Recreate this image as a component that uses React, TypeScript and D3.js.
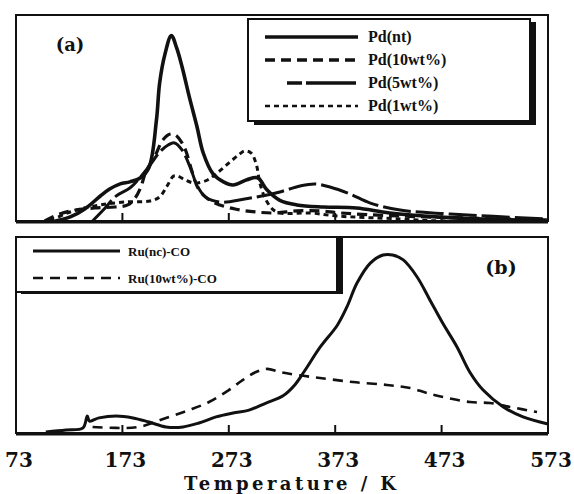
import * as d3 from 'd3';

type Pt = [number, number];

// temperature (K) vs. desorption signal (arb. units, 0-100 per panel)
const tempTicks = [73, 173, 273, 373, 473, 573];

const pdNt: Pt[] = [[110, 0], [124, 2], [138, 6], [152, 12], [161, 15.5], [171, 18], [180, 19], [190, 21], [198, 26], [205, 49], [208, 67], [213, 81], [219, 90], [224, 84], [229, 75], [236, 60], [243, 46], [249, 33], [258, 23], [268, 19], [277, 17.5], [290, 20], [300, 21], [309, 15], [321, 10], [337, 7.8], [362, 6.8], [393, 6.3], [424, 3.9], [471, 1.9], [518, 0.8], [572, 0.5]];
const pd10: Pt[] = [[100, 0], [114, 3.4], [129, 5.3], [147, 6.3], [166, 6.8], [178, 7.8], [185, 11.2], [190, 16], [195, 23.8], [204, 32], [211, 39.3], [218, 42.2], [223, 41.7], [229, 37.9], [233, 33.5], [238, 24.8], [244, 16], [251, 11.7], [260, 8.7], [279, 5.8], [298, 4.4], [316, 3.9], [337, 4.9], [359, 4.9], [378, 3.9], [434, 2.4], [572, 0.5]];
const pd5: Pt[] = [[145, 0], [155, 5.3], [167, 12.1], [180, 16], [190, 21.4], [199, 27.2], [208, 33.5], [216, 36.9], [222, 37.9], [229, 34.5], [237, 25.7], [243, 17.5], [251, 11.7], [265, 9.2], [288, 10.7], [304, 12.1], [321, 14.1], [340, 17], [354, 18], [368, 16.5], [387, 13.1], [406, 8.7], [434, 5.3], [481, 3.4], [572, 1]];
const pd1: Pt[] = [[105, 0], [119, 3.4], [133, 5.8], [152, 7.8], [175, 9.2], [199, 9.7], [208, 11.7], [215, 17], [221, 21.8], [225, 21.8], [232, 19.9], [241, 18.4], [253, 19.9], [262, 23.3], [272, 27.7], [282, 32], [288, 34], [294, 33], [299, 27.2], [302, 18.9], [307, 11.2], [314, 5.8], [321, 3.9], [349, 3.9], [375, 2.4], [434, 1], [472, 0], [572, 0]];

const ruNc: Pt[] = [[101, 0.5], [120, 1.5], [136, 2.6], [140, 8.7], [142, 6.1], [151, 7.7], [167, 8.7], [183, 7.7], [198, 5.6], [214, 3.1], [230, 3.1], [245, 5.1], [261, 8.2], [277, 10.2], [292, 11.7], [308, 15.3], [324, 19], [335, 24.5], [344, 31.5], [359, 43.9], [375, 55], [384, 64.3], [393.5, 76.5], [406, 86.7], [418, 90.8], [427, 90.8], [437, 88.3], [450, 79.6], [462, 67.9], [474, 56.1], [487.5, 43.9], [500, 30.6], [512, 21.9], [531, 13.3], [549.5, 8.2], [573, 4.6]];
const ru10: Pt[] = [[145, 3.1], [167, 2.6], [188.6, 3.1], [214, 7.7], [235.6, 11.7], [254.4, 15.8], [273, 21.9], [286, 27], [298.6, 31.1], [309, 32.7], [321, 31.1], [337, 29.6], [358.7, 28.1], [389.7, 26], [421.7, 24.5], [443.3, 23], [459.3, 20.4], [478, 17.9], [499.7, 15.8], [518.5, 15.3], [537.3, 13.3], [562.7, 10.7]];

const seriesA = [
  { name: 'Pd(nt)', data: pdNt, dash: null, width: 3.6 },
  { name: 'Pd(10wt%)', data: pd10, dash: '10,6', width: 3.2 },
  { name: 'Pd(5wt%)', data: pd5, dash: '28,5', width: 3 },
  { name: 'Pd(1wt%)', data: pd1, dash: '5,4', width: 3 },
];
const seriesB = [
  { name: 'Ru(nc)-CO', data: ruNc, dash: null, width: 3 },
  { name: 'Ru(10wt%)-CO', data: ru10, dash: '10,7', width: 2.6 },
];

const W = 574, H = 494;
const x = d3.scaleLinear().domain([73, 573]).range([16, 548]);
const yA = d3.scaleLinear().domain([0, 100]).range([221, 15]);
const yB = d3.scaleLinear().domain([0, 100]).range([433, 237]);

const serif = "'DejaVu Serif', serif";
const times = "'Liberation Serif', 'Times New Roman', serif";

function Panel({ y, series, top, bottom }: { y: d3.ScaleLinear<number, number>; series: typeof seriesA; top: number; bottom: number }) {
  const line = d3.line<Pt>().x(d => x(d[0])).y(d => y(d[1])).curve(d3.curveCatmullRom.alpha(0.5));
  return (
    <g>
      <rect x={16} y={top} width={x(573) - 16} height={bottom - top} fill="none" stroke="#111" strokeWidth={2} />
      {series.map(s => (
        <path key={s.name} d={line(s.data) || ''} fill="none" stroke="#111" strokeWidth={s.width}
          strokeDasharray={s.dash || undefined} strokeLinejoin="round" />
      ))}
      <line x1={16} x2={x(573)} y1={bottom + 1} y2={bottom + 1} stroke="#111" strokeWidth={3} />
      {tempTicks.slice(1, -1).map(t => (
        <line key={t} x1={x(t)} x2={x(t)} y1={bottom} y2={bottom - 8} stroke="#111" strokeWidth={2} />
      ))}
    </g>
  );
}

export default function App() {
  return (
    <svg width={W} height={H} viewBox={`0 0 ${W} ${H}`} style={{ position: 'absolute', left: 0, top: 0, background: '#fff' }}>
      <rect width={W} height={H} fill="#fff" />
      <Panel y={yA} series={seriesA} top={15} bottom={221} />
      <Panel y={yB} series={seriesB} top={237} bottom={433} />

      {/* legend (a) */}
      <rect x={254} y={22} width={282} height={103} fill="#111" />
      <rect x={248} y={19} width={282} height={102} fill="#fff" stroke="#111" strokeWidth={2} />
      {seriesA.map((s, i) => {
        const ly = 37 + i * 23;
        return (
          <g key={s.name}>
            <line x1={i === 2 ? 287 : 265} x2={358} y1={ly} y2={ly} stroke="#111"
              strokeWidth={i === 3 ? 2.4 : 3.4} strokeDasharray={i === 2 ? '15,4,50' : s.dash || undefined} />
            <text x={368} y={ly + 5} fontFamily={times} fontWeight="bold" fontSize={16} fill="#111">{s.name}</text>
          </g>
        );
      })}

      {/* legend (b) */}
      <rect x={21} y={238} width={322} height={56} fill="#111" />
      <rect x={16} y={237} width={321} height={55} fill="#fff" stroke="#111" strokeWidth={2} />
      {seriesB.map((s, i) => {
        const ly = 251 + i * 27;
        return (
          <g key={s.name}>
            <line x1={33} x2={120} y1={ly} y2={ly} stroke="#111" strokeWidth={i === 0 ? 3 : 2.4}
              strokeDasharray={s.dash || undefined} />
            <text x={128} y={ly + 5} fontFamily={times} fontWeight="bold" fontSize={13} fill="#111">{s.name}</text>
          </g>
        );
      })}

      <text x={70} y={51} textAnchor="middle" fontFamily={serif} fontWeight="bold" fontSize={18} fill="#111">(a)</text>
      <text x={501} y={274} textAnchor="middle" fontFamily={serif} fontWeight="bold" fontSize={19} fill="#111">(b)</text>

      {tempTicks.map(t => (
        <text key={t} x={x(t) + 3} y={467} textAnchor="middle" fontFamily={serif} fontWeight="bold" fontSize={20} fill="#111">{t}</text>
      ))}
      <text x={290} y={490} textAnchor="middle" fontFamily={serif} fontWeight="bold" fontSize={18}
        textLength={212} lengthAdjust="spacing" fill="#111">Temperature / K</text>
    </svg>
  );
}
